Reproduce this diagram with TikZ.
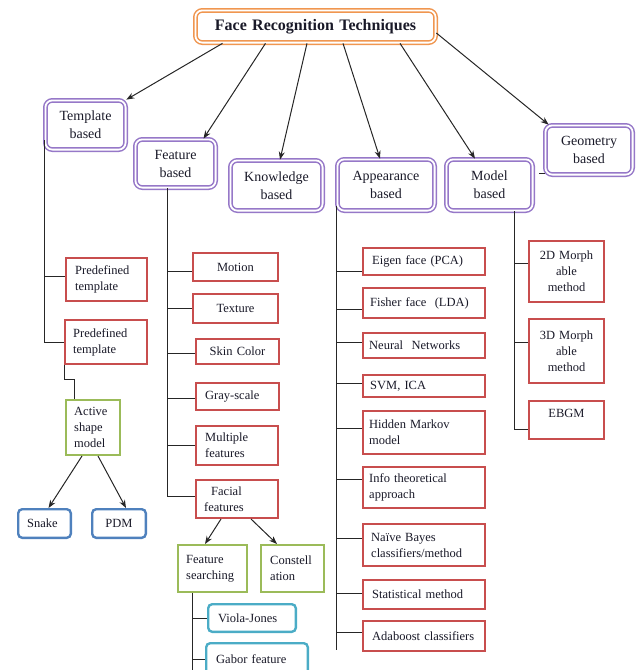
\documentclass[tikz,border=0pt]{standalone}
\usepackage{fontspec}
\setmainfont{Liberation Serif}
\usetikzlibrary{arrows.meta,calc}
\definecolor{purp}{RGB}{150,120,200}
\definecolor{orng}{RGB}{240,150,80}
\definecolor{redc}{RGB}{200,78,78}
\definecolor{grnc}{RGB}{155,187,89}
\definecolor{bluc}{RGB}{79,129,189}
\definecolor{cyac}{RGB}{75,172,198}
\definecolor{txtc}{RGB}{25,25,40}
\newcommand\drawbox[9]{%
  \pgfmathsetmacro\bxw{#4-#3-#9-2*#7}%
  \pgfmathsetmacro\bxh{#6-#5-#9}%
  \node[#1, inner xsep=#7pt, inner ysep=0pt, text width=\bxw pt, minimum height=\bxh pt]
    (#2) at ({(#3+#4)/2},{(#5+#6)/2}) {#8};}
\begin{document}
\begin{tikzpicture}[x=1pt,y=-1pt,
  every node/.style={text=txtc},
  ttl/.style={draw=orng, double=white, line width=1.5pt, double distance=1.8pt,
    rounded corners=7pt, align=center, font=\bfseries\fontsize{16}{19}\selectfont},
  lvl/.style={draw=purp, double=white, line width=1.5pt, double distance=1.8pt,
    rounded corners=7pt, align=center, font=\fontsize{14}{18}\selectfont},
  rbox/.style={draw=redc, line width=2.4pt, font=\fontsize{12.5}{16}\selectfont},
  gbox/.style={draw=grnc, line width=2.4pt, font=\fontsize{12.5}{16}\selectfont},
  bbox/.style={draw=bluc, line width=2.4pt, rounded corners=4pt, font=\fontsize{12.5}{16}\selectfont},
  cbox/.style={draw=cyac, line width=2.4pt, rounded corners=4pt, font=\fontsize{12.5}{16}\selectfont},
  lft/.style={align=left}, ctr/.style={align=center},
  conn/.style={draw=black!85, line width=1pt},
  arr/.style={draw=black!85, line width=1pt, -{Stealth[length=8pt,width=6pt]}}]
\useasboundingbox (0,0) rectangle (641,670);
\clip (0,0) rectangle (641,670);

% title and first level
\drawbox{ttl}{title}{193}{438}{8}{45}{0}{Face Recognition Techniques}{4.8}
\drawbox{lvl}{template}{43}{128}{98}{152}{0}{Template\\based}{4.8}
\drawbox{lvl}{feature}{133}{218}{137}{190}{0}{Feature\\based}{4.8}
\drawbox{lvl}{knowledge}{228}{325}{158}{213}{0}{Knowledge\\based}{4.8}
\drawbox{lvl}{appearance}{335}{437}{157}{213}{0}{Appearance\\based}{4.8}
\drawbox{lvl}{model}{444}{535}{157}{213}{0}{Model\\based}{4.8}
\drawbox{lvl}{geometry}{543}{635}{123}{177}{0}{Geometry\\based}{4.8}

% template branch
\drawbox{rbox,lft}{pt1}{65}{148}{257}{302}{9}{Predefined\\template}{2.4}
\drawbox{rbox,lft}{pt2}{64}{148}{319}{365}{8}{Predefined\\template}{2.4}
\drawbox{gbox,lft}{active}{65}{121}{399}{456}{8}{Active\\shape\\model}{2.4}
\drawbox{bbox,lft}{snake}{17}{72}{508}{539}{9}{Snake}{2.4}
\drawbox{bbox,ctr}{pdm}{91}{147}{508}{539}{0}{PDM}{2.4}

% feature branch
\drawbox{rbox,ctr}{motion}{192}{279}{252}{282}{0}{Motion}{2.4}
\drawbox{rbox,ctr}{texture}{192}{279}{293}{324}{0}{Texture}{2.4}
\drawbox{rbox,ctr}{skin}{195}{280}{338}{365}{0}{Skin Color}{2.4}
\drawbox{rbox,lft}{gray}{195}{280}{382}{411}{9}{Gray-scale}{2.4}
\drawbox{rbox,lft}{multiple}{195}{279}{425}{466}{9}{Multiple\\features}{2.4}
\drawbox{rbox,lft}{facial}{195}{279}{479}{519}{8}{\hspace*{7pt}Facial\\features}{2.4}
\drawbox{gbox,lft}{featsearch}{177}{248}{544}{593}{8}{Feature\\searching}{2.4}
\drawbox{gbox,lft}{constell}{260}{325}{544}{593}{9}{Constell\\ation}{2.4}
\drawbox{cbox,lft}{viola}{207}{297}{603}{633}{10}{Viola-Jones}{2.4}
\drawbox{cbox,lft}{gabor}{205}{309}{642}{676}{10}{Gabor feature}{2.4}

% appearance branch
\drawbox{rbox,lft}{eigen}{362}{486}{247}{276}{9}{Eigen face (PCA)}{2.4}
\drawbox{rbox,lft}{fisher}{362}{486}{287}{319}{7}{Fisher face \ (LDA)}{2.4}
\drawbox{rbox,lft}{neural}{362}{486}{332}{359}{6}{Neural \ Networks}{2.4}
\drawbox{rbox,lft}{svm}{362}{486}{374}{398}{7}{SVM, ICA}{2.4}
\drawbox{rbox,lft}{hidden}{362}{486}{410}{455}{6}{Hidden Markov\\model}{2.4}
\drawbox{rbox,lft}{info}{362}{486}{466}{509}{6}{Info theoretical\\approach}{2.4}
\drawbox{rbox,lft}{naive}{362}{486}{523}{567}{8}{Naïve Bayes\\classifiers/method}{2.4}
\drawbox{rbox,lft}{stat}{362}{486}{579}{610}{9}{Statistical method}{2.4}
\drawbox{rbox,lft}{ada}{362}{486}{620}{652}{9}{Adaboost classifiers}{2.4}

% model branch
\drawbox{rbox,ctr}{m2d}{528}{605}{240}{303}{0}{2D Morph\\able\\method}{2.4}
\drawbox{rbox,ctr}{m3d}{528}{605}{318}{384}{0}{3D Morph\\able\\method}{2.4}
\drawbox{rbox,ctr,text height=9pt,text depth=14pt}{ebgm}{528}{605}{400}{440}{0}{EBGM}{2.4}

% arrows from the title
\draw[arr] ([xshift=-93pt]title.south) -- (template.north east);
\draw[arr] ([xshift=-50pt]title.south) -- ([xshift=28pt]feature.north);
\draw[arr] ([xshift=-8.5pt]title.south) -- ([xshift=3.5pt]knowledge.north);
\draw[arr] ([xshift=27.5pt]title.south) -- ([xshift=-6pt]appearance.north);
\draw[arr] ([xshift=84.5pt]title.south) -- ([xshift=-14.5pt]model.north);
\draw[arr] ([yshift=-6.5pt]title.east) -- ([xshift=4pt]geometry.north west);

% model - geometry stub
\coordinate (gstub) at (539,173);
\draw[conn] (gstub) -- (gstub -| geometry.west);

% template connectors
\draw[conn] ([yshift=10pt]template.south west) |- (pt2.west);
\draw[conn] ([yshift=3.5pt]template.south west |- pt1.west) -- ([yshift=3.5pt]pt1.west);
\draw[conn] (pt2.south west) -- ++(0,14) -| ([xshift=9pt]active.north west);
\draw[arr] ([xshift=17pt]active.south west) -- ([xshift=4pt]snake.north);
\draw[arr] ([xshift=33pt]active.south west) -- ([xshift=7pt]pdm.north);

% feature connectors
\draw[conn] ([xshift=-8.5pt]feature.south) -- ([xshift=-8.5pt,yshift=3pt]feature.south |- facial.west);
\foreach \n/\s in {motion/-4,texture/0,skin/-1.5,gray/-1.5,multiple/0,facial/3}
  \draw[conn] ([xshift=-8.5pt,yshift=\s pt]feature.south |- \n.west) -- ([yshift=\s pt]\n.west);
\draw[arr] ([xshift=26pt]facial.south west) -- ([xshift=-7.5pt]featsearch.north);
\draw[arr] ([xshift=56pt]facial.south west) -- ([xshift=-15.5pt]constell.north);
\coordinate (fsend) at (193,680);
\draw[conn] ([xshift=15pt]featsearch.south west) -- ([xshift=15pt]featsearch.south west |- fsend);
\foreach \n in {viola,gabor}
  \draw[conn] ([xshift=15pt]featsearch.south west |- \n.west) -- (\n.west);

% appearance connectors
\draw[conn] ([yshift=5pt]appearance.south west) -- ([yshift=-14pt]appearance.south west |- ada.west);
\foreach \n/\s in {eigen/-10,fisher/-6,neural/3,svm/3,hidden/4,info/8,naive/7,stat/1,ada/4}
  \draw[conn] ([yshift=\s pt]appearance.south west |- \n.west) -- ([yshift=\s pt]\n.west);

% model connectors
\draw[conn] ([xshift=24.5pt]model.south) -- ([xshift=24.5pt,yshift=-9pt]model.south |- ebgm.west);
\foreach \n/\s in {m2d/8,m3d/9,ebgm/-9}
  \draw[conn] ([xshift=24.5pt,yshift=\s pt]model.south |- \n.west) -- ([yshift=\s pt]\n.west);
\end{tikzpicture}
\end{document}
